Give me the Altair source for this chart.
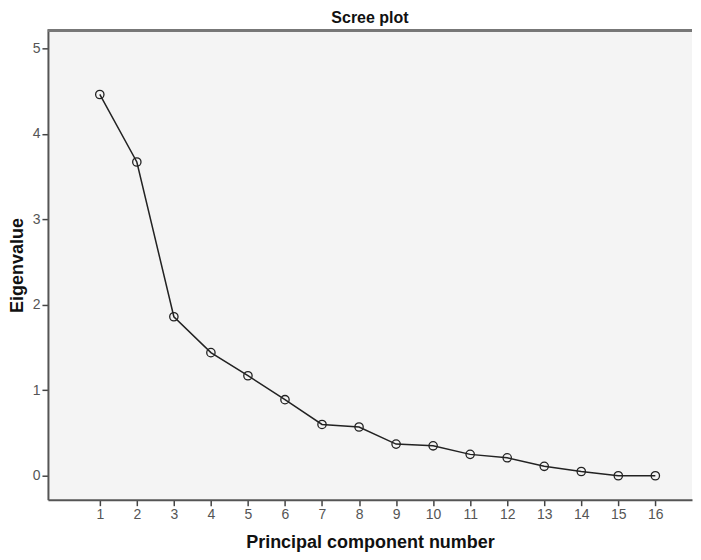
import altair as alt
import pandas as pd

components = list(range(1, 17))
eigenvalues = [4.46, 3.67, 1.86, 1.44, 1.17, 0.89, 0.60, 0.57,
               0.37, 0.35, 0.25, 0.21, 0.11, 0.05, 0.00, 0.00]

df = pd.DataFrame({"component": components, "eigenvalue": eigenvalues})

W, H = 645, 470
FONT = "Liberation Sans"

x = alt.X("component:Q",
          scale=alt.Scale(domain=[-0.4, 16.99], nice=False, zero=False),
          axis=alt.Axis(values=components, title="Principal component number",
                        grid=False, tickSize=6, tickColor="#444", tickWidth=1.5,
                        domainColor="#555", domainWidth=2, labelColor="#555",
                        labelFontSize=14, labelPadding=2, labelFont=FONT,
                        titleFont=FONT, titleFontSize=18, titleFontWeight="bold",
                        titleColor="#111", titlePadding=12, format="d"))
y = alt.Y("eigenvalue:Q",
          scale=alt.Scale(domain=[-0.28, 5.21], nice=False, zero=False),
          axis=alt.Axis(values=[0, 1, 2, 3, 4, 5], title="Eigenvalue",
                        grid=False, tickSize=6, tickColor="#444", tickWidth=1.5,
                        domainColor="#555", domainWidth=2, labelColor="#555",
                        labelFontSize=14, labelPadding=2, labelFont=FONT,
                        titleFont=FONT, titleFontSize=18, titleFontWeight="bold",
                        titleColor="#111", titlePadding=6, format="d"))

base = alt.Chart(df)
line = base.mark_line(color="#222", strokeWidth=1.5).encode(x=x, y=y)
pts = base.mark_point(shape="circle", filled=False, size=70, color="#222",
                      strokeWidth=1.3, opacity=1).encode(x=x, y=y)
top = alt.Chart(df).mark_rule(color="#777", strokeWidth=2).encode(
    x=alt.value(0), x2=alt.value(W), y=alt.value(0))

chart = alt.layer(line, pts, top).properties(
    width=W, height=H,
    padding={"left": 0, "top": 2, "right": 0, "bottom": 0},
    title=alt.TitleParams("Scree plot", font=FONT, fontSize=16, fontWeight="bold",
                          color="#111", offset=3, anchor="middle"),
).configure_view(fill="#f4f4f4", stroke=None)

chart.save("out.html", embed_options={"renderer": "svg", "actions": False})
